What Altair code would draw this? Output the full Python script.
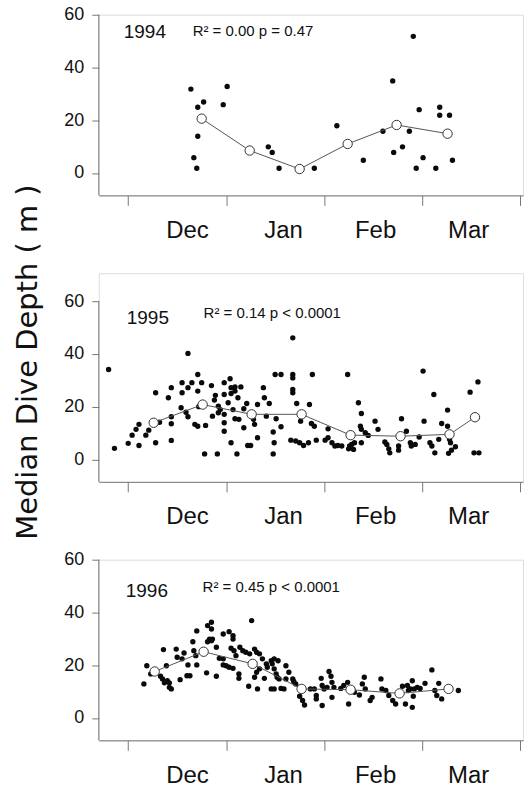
import altair as alt
import pandas as pd

# Time axis: months elapsed since 1 December (0 = 1 Dec, 1 = 1 Jan, ...)
MONTHS = ["Dec", "Jan", "Feb", "Mar"]
MONTH_LABEL_AT = [0.6, 1.58, 2.52, 3.47]
MONTH_TICKS = [0, 1, 2, 3, 4]
DEPTH_TICKS = [0, 20, 40, 60]
T_DOMAIN = [-0.3, 4.03]
DEPTH_MIN, DEPTH_MAX = -8.5, 60

YEARS = ["1994", "1995", "1996"]
STATS = ["R² = 0.00 p = 0.47", "R² = 0.14 p < 0.0001", "R² = 0.45 p < 0.0001"]

# Daily median dive depth (t, depth m)
dives_1994 = [
    (0.64, 31.8), (0.71, 24.9), (0.77, 26.9), (0.71, 13.9), (0.67, 5.8), (0.70, 1.8),
    (1.01, 32.8), (0.97, 25.9), (1.43, 9.9), (1.47, 7.8), (1.54, 1.8), (1.90, 1.8),
    (2.13, 17.9), (2.40, 4.8), (2.60, 15.8), (2.70, 34.9), (2.71, 7.8), (2.80, 9.9),
    (2.91, 51.8), (2.87, 15.8), (2.97, 24.0), (2.94, 1.8), (3.01, 5.8), (3.14, 1.8),
    (3.18, 24.9), (3.18, 21.9), (3.28, 21.9), (3.31, 4.8),
]
dives_1995 = [
    (-0.20, 34.1), (-0.14, 4.2), (0.00, 6.1), (0.04, 9.2), (0.08, 11.4), (0.11, 13.3),
    (0.11, 5.3), (0.18, 9.2), (0.21, 11.1), (0.28, 25.3), (0.28, 6.3), (0.32, 14.1),
    (0.41, 23.4), (0.44, 27.2), (0.44, 16.2), (0.44, 13.5), (0.44, 7.2), (0.55, 29.1),
    (0.55, 25.3), (0.54, 19.6), (0.59, 17.9), (0.61, 40.2), (0.61, 27.2), (0.61, 16.2),
    (0.65, 29.1), (0.71, 32.2), (0.75, 29.1), (0.71, 25.9), (0.72, 20.0), (0.68, 13.3),
    (0.71, 12.6), (0.79, 12.9), (0.78, 2.1), (0.85, 28.0), (0.89, 24.3), (0.86, 16.4),
    (0.91, 2.1), (0.88, 22.5), (0.92, 20.2), (0.94, 18.9), (0.92, 17.7), (0.98, 29.1),
    (1.04, 30.6), (0.98, 24.6), (0.98, 17.1), (0.98, 13.9), (0.98, 10.7), (1.02, 21.5),
    (1.05, 25.0), (1.05, 27.2), (1.09, 27.5), (1.09, 25.9), (1.05, 6.3), (1.07, 18.9),
    (1.09, 15.4), (1.11, 2.1), (1.12, 23.4), (1.15, 27.5), (1.13, 15.2), (1.21, 21.2),
    (1.18, 19.2), (1.18, 12.0), (1.22, 5.3), (1.25, 5.3), (1.28, 15.2), (1.29, 13.3),
    (1.32, 20.8), (1.32, 8.2), (1.38, 27.2), (1.39, 23.4), (1.41, 16.4), (1.44, 21.2),
    (1.48, 10.4), (1.49, 6.3), (1.48, 2.1), (1.50, 32.2), (1.56, 32.2), (1.51, 15.4),
    (1.56, 12.4), (1.68, 46.1), (1.68, 32.2), (1.68, 30.9), (1.68, 26.5), (1.68, 25.3),
    (1.72, 21.2), (1.66, 7.3), (1.71, 7.0), (1.75, 6.3), (1.76, 14.5), (1.79, 5.3),
    (1.85, 20.8), (1.87, 13.6), (1.88, 32.2), (1.90, 12.6), (1.84, 6.3), (1.92, 7.3),
    (2.04, 11.6), (2.01, 7.3), (2.04, 8.2), (2.08, 6.3), (2.11, 5.1), (2.14, 5.3),
    (2.18, 5.1), (2.24, 32.2), (2.25, 4.0), (2.26, 5.1), (2.28, 5.7), (2.30, 3.8),
    (2.31, 6.3), (2.35, 21.5), (2.38, 17.4), (2.37, 12.6), (2.38, 11.4), (2.42, 10.1),
    (2.45, 9.1), (2.38, 6.3), (2.52, 14.5), (2.55, 11.4), (2.62, 6.6), (2.64, 5.7),
    (2.66, 4.0), (2.67, 2.5), (2.76, 5.1), (2.76, 3.5), (2.79, 15.4), (2.84, 10.7),
    (2.88, 6.3), (2.89, 5.1), (2.93, 5.7), (2.97, 8.5), (3.01, 33.5), (3.02, 14.5),
    (3.08, 6.3), (3.10, 5.1), (3.12, 24.6), (3.13, 2.5), (3.17, 7.6), (3.20, 13.6),
    (3.26, 18.7), (3.26, 12.6), (3.28, 7.6), (3.29, 6.3), (3.34, 4.8), (3.30, 3.5),
    (3.27, 2.3), (3.49, 25.5), (3.57, 29.4), (3.53, 2.5), (3.58, 2.5),
]
dives_1996 = [
    (0.16, 12.9), (0.19, 19.8), (0.23, 16.7), (0.33, 15.8), (0.35, 14.8), (0.37, 13.3),
    (0.40, 14.1), (0.42, 13.3), (0.42, 11.6), (0.44, 11.0), (0.39, 19.8), (0.36, 25.9),
    (0.53, 14.5), (0.49, 26.1), (0.50, 23.0), (0.57, 24.6), (0.55, 22.4), (0.60, 16.0),
    (0.63, 16.0), (0.61, 20.1), (0.67, 25.5), (0.66, 28.9), (0.70, 33.0), (0.70, 20.1),
    (0.69, 23.6), (0.80, 17.1), (0.83, 29.9), (0.81, 28.9), (0.85, 29.3), (0.86, 29.9),
    (0.81, 35.0), (0.85, 36.3), (0.85, 33.7), (0.90, 26.8), (0.90, 15.8), (0.97, 31.8),
    (1.03, 32.7), (1.07, 31.2), (1.07, 29.9), (1.05, 26.4), (1.08, 25.5), (1.10, 23.6),
    (0.93, 22.6), (0.97, 22.4), (0.97, 20.1), (1.00, 19.8), (1.03, 19.2), (1.07, 18.8),
    (1.13, 16.7), (1.13, 15.0), (1.23, 12.0), (1.26, 36.9), (1.14, 26.8), (1.17, 25.5),
    (1.20, 24.9), (1.24, 24.3), (1.29, 26.1), (1.31, 24.9), (1.34, 24.3), (1.37, 22.4),
    (1.41, 20.5), (1.42, 19.2), (1.46, 21.7), (1.49, 22.4), (1.53, 21.7), (1.47, 20.5),
    (1.49, 18.6), (1.51, 16.7), (1.52, 15.4), (1.54, 14.8), (1.56, 11.2), (1.61, 19.8),
    (1.64, 17.3), (1.68, 14.8), (1.34, 18.6), (1.31, 17.3), (1.29, 15.4), (1.39, 15.0),
    (1.32, 11.0), (1.46, 11.0), (1.49, 11.0), (1.59, 11.0), (1.61, 14.8), (1.69, 13.8),
    (1.71, 12.9), (1.75, 8.2), (1.78, 6.6), (1.80, 4.9), (1.86, 11.0), (1.90, 11.0),
    (1.92, 8.5), (1.92, 7.2), (1.97, 15.0), (1.98, 12.3), (2.00, 11.0), (2.05, 17.6),
    (2.07, 15.8), (2.08, 13.5), (2.08, 7.8), (1.98, 4.7), (2.03, 11.6), (2.10, 11.6),
    (2.17, 11.2), (2.20, 12.3), (2.24, 13.5), (2.29, 11.0), (2.31, 9.7), (2.25, 5.3),
    (2.36, 8.7), (2.39, 12.9), (2.41, 15.4), (2.42, 11.0), (2.47, 6.6), (2.49, 7.8),
    (2.58, 14.8), (2.59, 11.0), (2.63, 10.4), (2.66, 8.5), (2.70, 6.6), (2.73, 5.3),
    (2.80, 12.0), (2.85, 12.3), (2.86, 10.4), (2.88, 11.0), (2.90, 14.1), (2.92, 11.0),
    (2.91, 8.2), (2.83, 5.3), (2.90, 4.0), (2.95, 11.6), (2.98, 11.2), (3.03, 13.1),
    (3.10, 18.2), (3.13, 10.4), (3.15, 8.5), (3.20, 7.2), (3.17, 13.1), (3.37, 10.4),
]

# Half-monthly means (open circles)
means_1994 = [(0.75, 20.6), (1.24, 8.5), (1.75, 1.5), (2.24, 11.0), (2.74, 18.2), (3.26, 14.9)]
means_1995 = [(0.26, 13.9), (0.76, 20.8), (1.26, 17.1), (1.77, 17.1), (2.27, 9.2),
              (2.78, 8.8), (3.28, 9.5), (3.54, 16.0)]
means_1996 = [(0.27, 17.6), (0.77, 25.1), (1.27, 20.5), (1.77, 11.0), (2.27, 10.7),
              (2.77, 9.3), (3.27, 11.0)]

AXIS_GREY = "#777777"
INK = "#111111"
FONT = "Liberation Sans"
W, H = 425, 181

label_expr = " : ".join(
    f"datum.value == {v} ? '{m}'" for v, m in zip(MONTH_LABEL_AT, MONTHS)
) + " : ''"

x_axis = alt.Axis(
    values=MONTH_TICKS + MONTH_LABEL_AT,
    labelExpr=label_expr,
    title="",
    grid=False,
    domainColor=AXIS_GREY,
    tickColor=AXIS_GREY,
    tickSize=10,
    tickOpacity={"condition": {"test": "datum.value % 1 != 0", "value": 0}, "value": 1},
    labelFont=FONT,
    labelFontSize=24,
    labelColor=INK,
    labelPadding=13,
    labelOverlap=False,
    labelFlush=False,
)


def y_axis(with_title, title_y=0):
    kw = dict(
        values=DEPTH_TICKS,
        domain=False,
        grid=False,
        tickColor=AXIS_GREY,
        tickSize=7,
        labelFont=FONT,
        labelFontSize=18,
        labelColor=INK,
        labelPadding=8,
        title="",
    )
    if with_title:
        kw.update(
            title="Median Dive Depth ( m )",
            titleFont="DejaVu Sans",
            titleFontSize=29,
            titleFontWeight="normal",
            titleColor=INK,
            titleAngle=270,
            titleAlign="center",
            titleBaseline="alphabetic",
            titleX=-62,
            titleY=title_y,
        )
    return alt.Axis(**kw)


def panel(year, stats, dives, means, extra_top, year_pos, stats_pos, axis):
    top = DEPTH_MAX + extra_top * (DEPTH_MAX - DEPTH_MIN) / H
    height = H + extra_top
    dive_df = pd.DataFrame(dives, columns=["t", "depth"])
    mean_df = pd.DataFrame(means, columns=["t", "depth"])

    x = alt.X("t:Q", scale=alt.Scale(domain=T_DOMAIN, nice=False, zero=False), axis=x_axis)
    y = alt.Y("depth:Q", scale=alt.Scale(domain=[DEPTH_MIN, top], nice=False, zero=False), axis=axis)

    dots = alt.Chart(dive_df).mark_circle(size=29, color="#0a0a0a", opacity=1).encode(x=x, y=y)
    line = alt.Chart(mean_df).mark_line(color="#555555", strokeWidth=1).encode(x="t:Q", y="depth:Q")
    rings = alt.Chart(mean_df).mark_point(
        shape="circle", filled=True, fill="white", stroke="#333333",
        strokeWidth=1, size=88, opacity=1,
    ).encode(x="t:Q", y="depth:Q")
    # vertical axis line running from the 60 m tick down to the time axis
    y_line = alt.Chart(pd.DataFrame({"k": [0]})).mark_rule(color=AXIS_GREY, strokeWidth=1).encode(
        x=alt.value(0), y=alt.datum(DEPTH_MAX), y2=alt.datum(DEPTH_MIN)
    )
    year_txt = alt.Chart(pd.DataFrame({"label": [year]})).mark_text(
        align="left", baseline="middle", font=FONT, fontSize=19, color=INK
    ).encode(x=alt.value(year_pos[0]), y=alt.datum(year_pos[1]), text="label:N")
    stats_txt = alt.Chart(pd.DataFrame({"label": [stats]})).mark_text(
        align="left", baseline="middle", font=FONT, fontSize=15, color=INK
    ).encode(x=alt.value(stats_pos[0]), y=alt.datum(stats_pos[1]), text="label:N")

    return alt.layer(dots, line, rings, y_line, year_txt, stats_txt).properties(
        width=W, height=height
    )


EXTRA2 = 28
p1 = panel(YEARS[0], STATS[0], dives_1994, means_1994, 0, (25, 53.6), (94, 53.9), y_axis(False))
p2 = panel(YEARS[1], STATS[1], dives_1995, means_1995, EXTRA2, (28, 53.8), (105, 55.7),
           y_axis(True, EXTRA2 + 60.5))
p3 = panel(YEARS[2], STATS[2], dives_1996, means_1996, 0, (27, 48.2), (104, 49.6), y_axis(False))

chart = (
    alt.vconcat(p1, p2, p3, spacing=78, bounds="flush")
    .properties(padding={"left": 13, "top": 4, "right": 0, "bottom": 0})
    .configure_view(stroke=None)
    .configure(font=FONT)
)

chart.save("out.html", embed_options={"renderer": "svg", "actions": False})
